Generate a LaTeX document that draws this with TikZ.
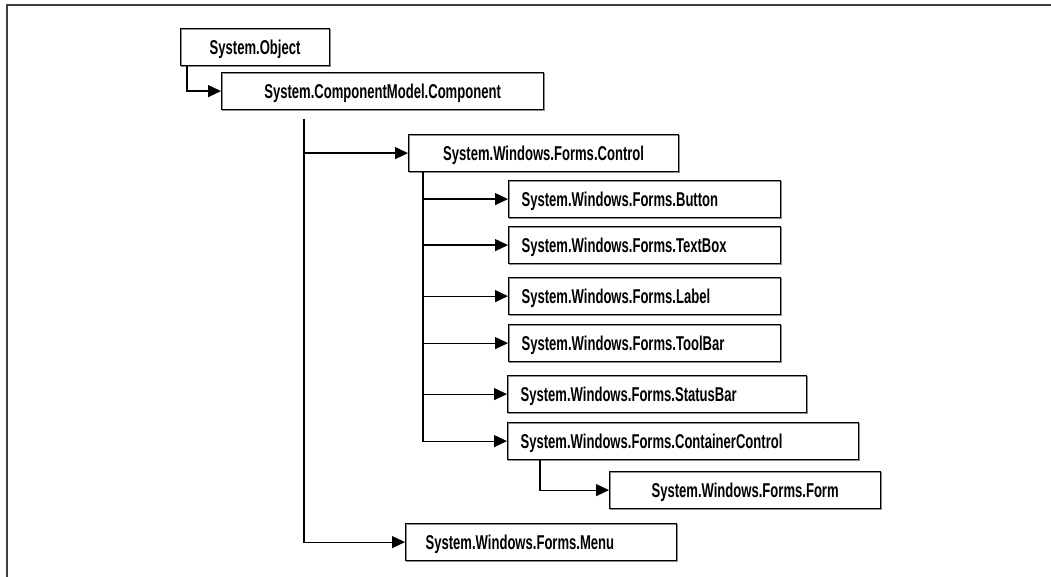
\documentclass[tikz,border=0pt]{standalone}
\usepackage{graphicx}
\usepackage{fontspec}
\newfontfamily\condfont[FakeStretch=0.653]{Liberation Sans Bold}
\newcommand{\boxfont}{\condfont\fontsize{27}{30}\selectfont}
\newcommand{\lbltext}[1]{\scalebox{0.7407}{#1}}
\usetikzlibrary{arrows.meta,calc}
\begin{document}
\begin{tikzpicture}[x=1pt,y=-1pt,
  box/.style={draw, line width=1.2pt, inner ysep=0pt, minimum height=37pt,
    text height=14pt, text depth=0pt, font=\boxfont,
    preaction={draw=black!45, line width=1.2pt, transform canvas={xshift=0.9pt, yshift=-0.9pt}}},
  cbox/.style={box, inner xsep=0pt, minimum width=#1, anchor=north west},
  lbox/.style={box, inner xsep=13pt, text width=#1-26pt, align=left, anchor=north west},
  mbox/.style={box, inner xsep=20pt, text width=#1-40pt, align=left, anchor=north west},
  conn/.style={line width=1.2pt},
  arr/.style={conn, -{Triangle[length=13pt,width=12pt]}}]
\useasboundingbox (0,0) rectangle (1051,577);
\draw[line width=2pt, black!75] (6.5,577) -- (6.5,5.5) -- (1051,5.5);

\node[cbox=149pt] (obj) at (180,28) {\lbltext{System.Object}};
\node[cbox=322pt] (comp) at (221,72) {\lbltext{System.ComponentModel.Component}};
\node[cbox=270pt] (ctrl) at (408,134) {\lbltext{System.Windows.Forms.Control}};
\node[lbox=272pt] (btn) at (508,180) {\lbltext{System.Windows.Forms.Button}};
\node[lbox=272pt] (tb) at (508,226) {\lbltext{System.Windows.Forms.TextBox}};
\node[lbox=272pt] (lbl) at (508,277) {\lbltext{System.Windows.Forms.Label}};
\node[lbox=272pt] (tool) at (508,324) {\lbltext{System.Windows.Forms.ToolBar}};
\node[lbox=299pt] (status) at (507,375) {\lbltext{System.Windows.Forms.StatusBar}};
\node[lbox=351pt] (cc) at (507,422) {\lbltext{System.Windows.Forms.ContainerControl}};
\node[cbox=271pt] (form) at (609,471) {\lbltext{System.Windows.Forms.Form}};
\node[mbox=271pt] (menu) at (405,523) {\lbltext{System.Windows.Forms.Menu}};

\coordinate (t1) at (304,119);
\coordinate (t2) at ($(ctrl.south west)+(15,0)$);
\coordinate (t3) at ($(cc.south west)+(33,0)$);

\draw[arr] ($(obj.south west)+(7,0)$) |- (comp.west);
\draw[arr] (t1) |- (menu.west);
\draw[arr] (t1 |- ctrl.west) -- (ctrl.west);
\draw[arr] (t2) |- (cc.west);
\draw[arr] (t2 |- btn.west) -- (btn.west);
\draw[arr] (t2 |- tb.west) -- (tb.west);
\draw[arr] (t2 |- lbl.west) -- (lbl.west);
\draw[arr] (t2 |- tool.west) -- (tool.west);
\draw[arr] (t2 |- status.west) -- (status.west);
\draw[arr] (t3) |- (form.west);
\end{tikzpicture}
\end{document}
